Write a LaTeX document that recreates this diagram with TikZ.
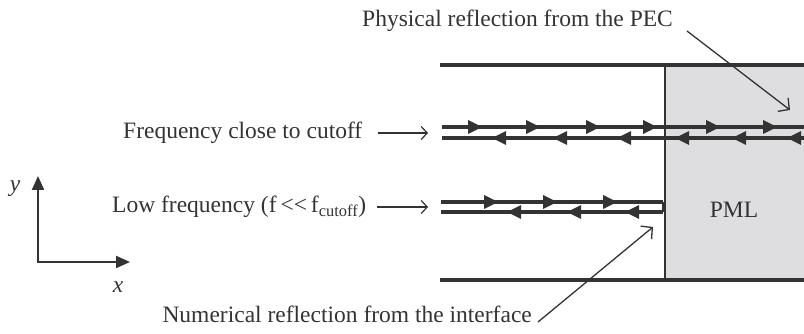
\documentclass[tikz,border=0pt]{standalone}
\usepackage{fontspec}
\setmainfont{Liberation Serif}
\usetikzlibrary{arrows.meta}
\definecolor{ink}{HTML}{333333}
\definecolor{pmlgray}{HTML}{DEDEE0}
\tikzset{
  wall/.style={draw=ink, line width=4.5pt},
  wave/.style={draw=ink, line width=3.2pt},
  lbl/.style={inner sep=0pt, text=ink, font=\fontsize{23.5}{28}\selectfont},
  pointer/.style={draw=ink, line width=1.3pt, -{Straight Barb[length=8pt,width=17pt]}},
  hint/.style={draw=ink, line width=1.2pt, -{Straight Barb[length=6pt,width=13pt]}},
  axis/.style={draw=ink, line width=2.2pt, {Triangle[length=14pt,width=12pt]}-{Triangle[length=14pt,width=12pt]}}
}
% filled triangles riding on the waveguide lines
\newcommand{\fwdtip}[2]{\fill[ink] (#1,#2) -- ++(-14,-7) -- ++(0,14) -- cycle;}
\newcommand{\bwdtip}[2]{\fill[ink] (#1,#2) -- ++(14,-7) -- ++(0,14) -- cycle;}
\begin{document}
\begin{tikzpicture}[x=1pt,y=-1pt]
  \useasboundingbox (0,0) rectangle (804,334);
  % PML block and guide walls
  \fill[pmlgray] (665,65) rectangle (804,280);
  \draw[ink, line width=1.3pt] (665,65) -- (665,280);
  \draw[wall] (440,65) -- (804,65);
  \draw[wall] (440,280) -- (804,280);
  % wave close to cutoff
  \draw[wave] (442,127) -- (804,127);
  \draw[wave] (442,138) -- (804,138);
  \foreach \x in {482,540,600,657,720,777} {\fwdtip{\x}{127}}
  \foreach \x in {492,553,617,675,732,787} {\bwdtip{\x}{138}}
  % low frequency wave
  \draw[wave] (441,202) -- (663,202);
  \draw[wave] (441,212) -- (663,212);
  \draw[ink, line width=1.2pt] (663,202) -- (663,212);
  \foreach \x in {498,557,617} {\fwdtip{\x}{202}}
  \foreach \x in {507,567,625} {\bwdtip{\x}{212}}
  % labels
  \node[lbl, anchor=base west] (pec) at (362,27) {Physical reflection from the PEC};
  \node[lbl, anchor=base west] (close) at (123,139) {Frequency close to cutoff};
  \node[lbl, anchor=base west] (low) at (112,213) {Low frequency (f\,<{}<\,f\textsubscript{cutoff})};
  \node[lbl, anchor=base east] (numer) at (532,322) {Numerical reflection from the interface};
  \node[lbl, font=\fontsize{23.5}{28}\selectfont\itshape] (ylab) at (15,189) {y};
  \node[lbl, font=\fontsize{23.5}{28}\selectfont\itshape] (xlab) at (118,287) {x};
  \node[lbl] (pml) at (734,210) {PML};
  % pointers
  \coordinate (pecfrom) at (687,31);
  \coordinate (pecto) at (790,110);
  \coordinate (numfrom) at (538,322);
  \coordinate (numto) at (653,227);
  \coordinate (closefrom) at (378,133);
  \coordinate (closeto) at (428,133);
  \coordinate (lowfrom) at (377,207);
  \coordinate (lowto) at (428,207);
  \draw[pointer] (pecfrom) -- (pecto);
  \draw[pointer] (numfrom) -- (numto);
  \draw[hint] (closefrom) -- (closeto);
  \draw[hint] (lowfrom) -- (lowto);
  % coordinate axes
  \coordinate (ytip) at (38,176);
  \coordinate (origin) at (38,262);
  \coordinate (xtip) at (130,262);
  \draw[axis] (ytip) -- (origin) -- (xtip);
\end{tikzpicture}
\end{document}
